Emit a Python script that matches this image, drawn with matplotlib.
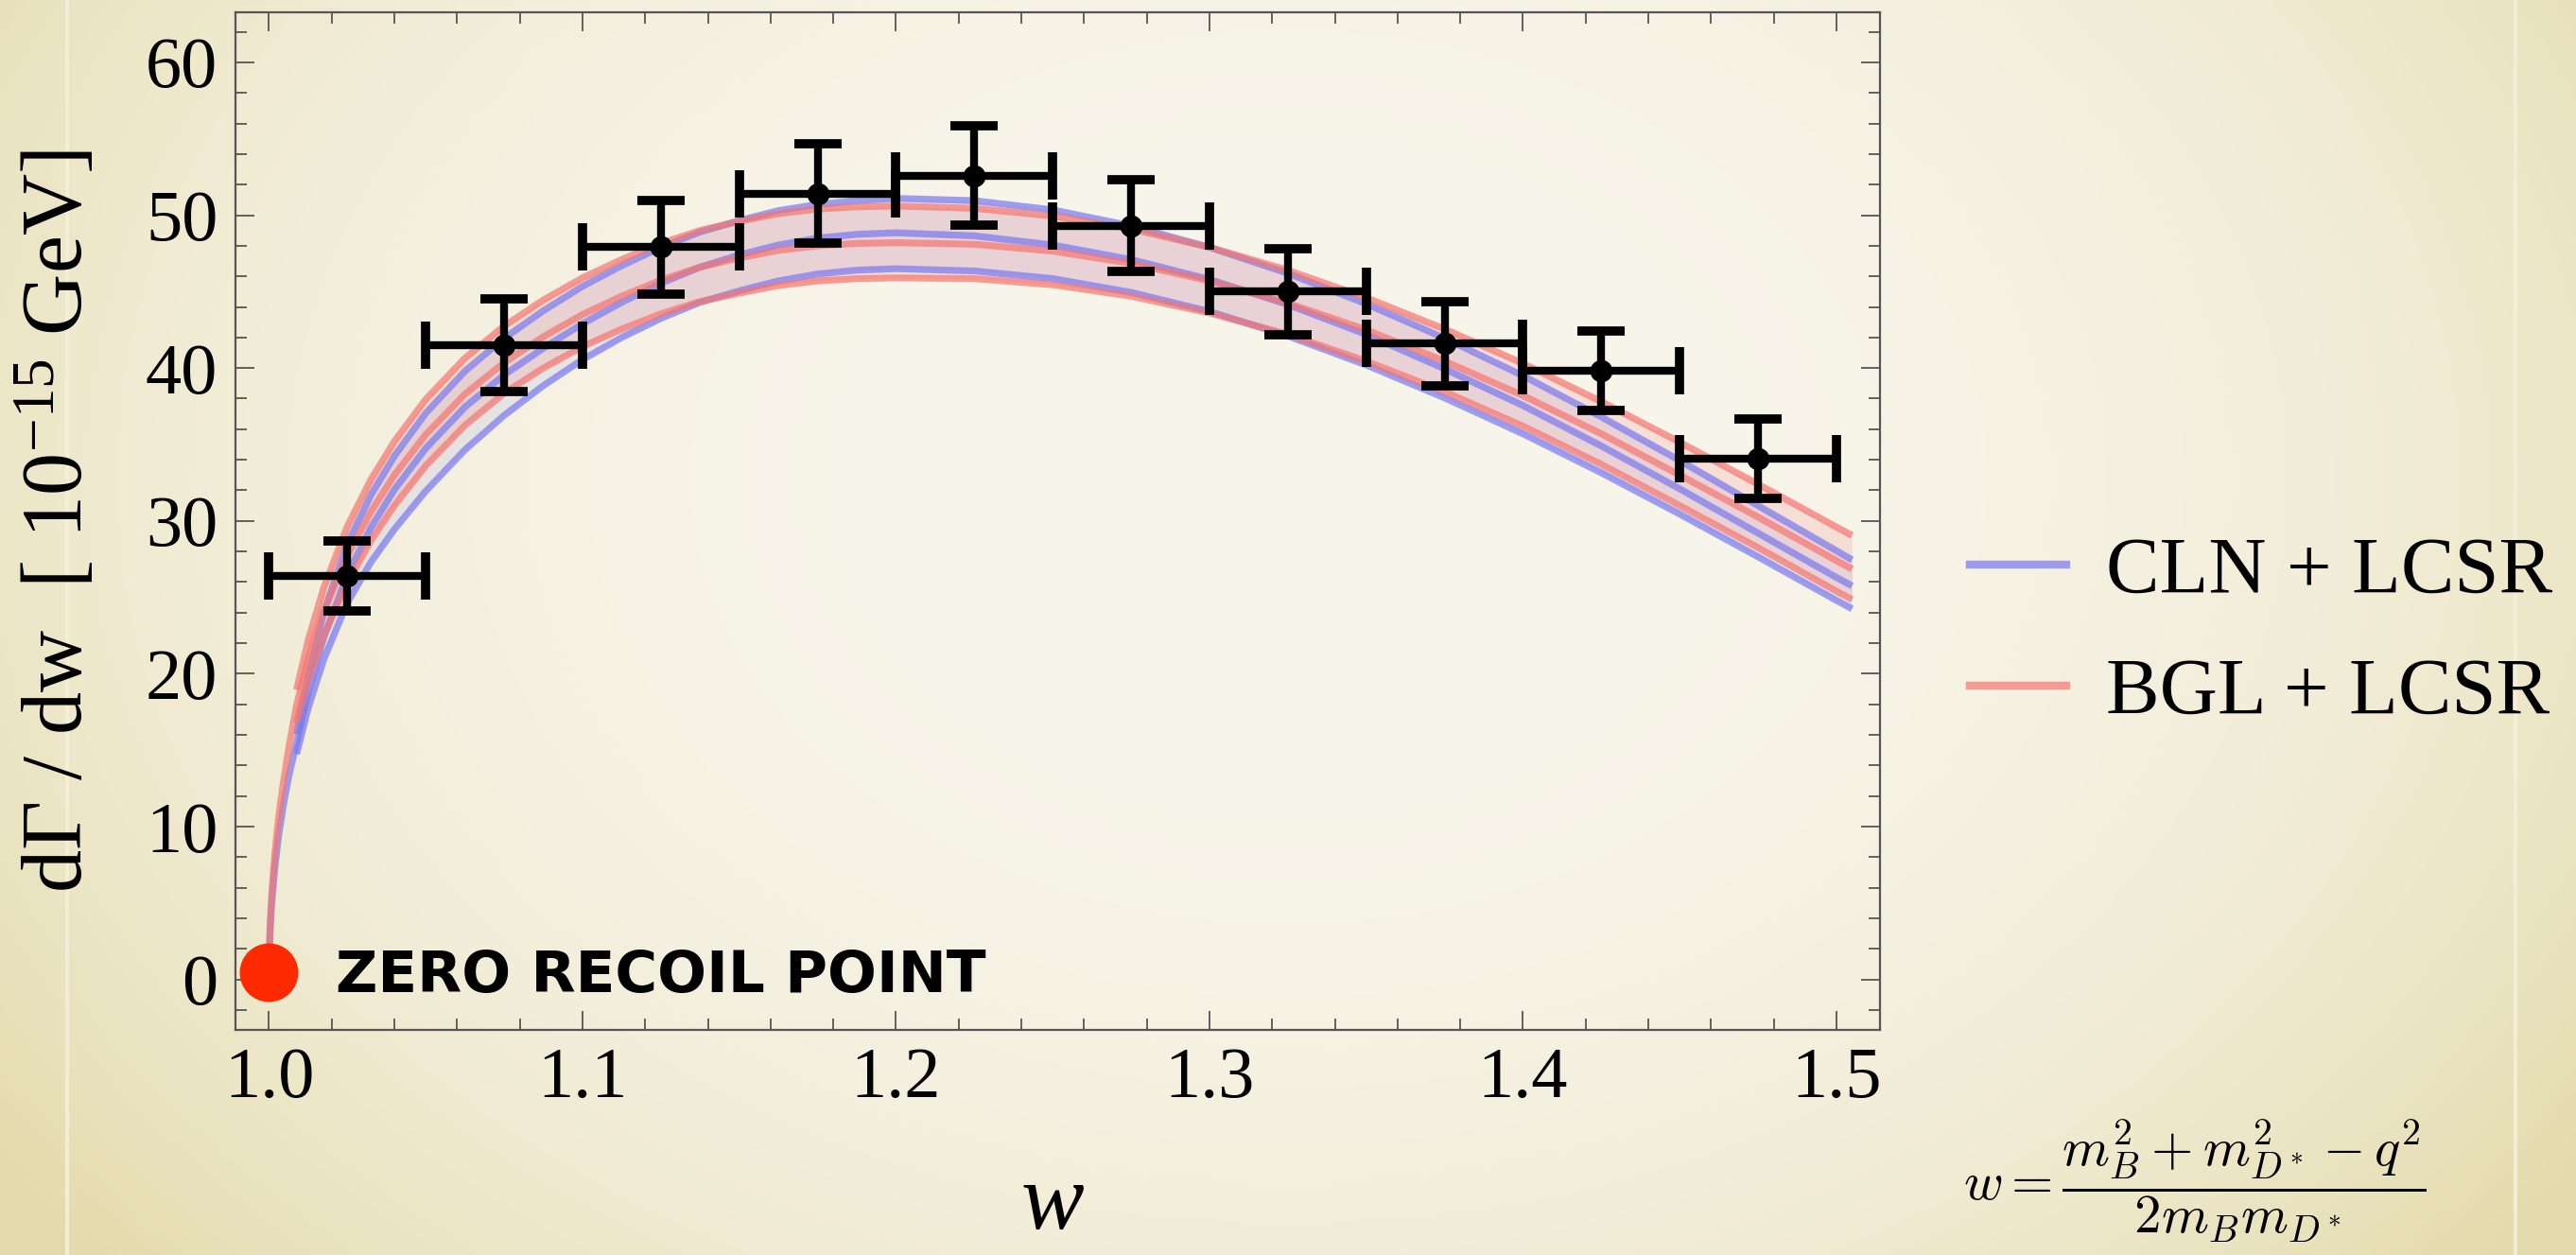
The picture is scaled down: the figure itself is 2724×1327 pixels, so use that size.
import numpy as np
import matplotlib.pyplot as plt
from matplotlib.ticker import MultipleLocator, FormatStrFormatter
from matplotlib.lines import Line2D

plt.rcParams['font.family'] = ['Liberation Serif', 'DejaVu Serif']
plt.rcParams['mathtext.fontset'] = 'custom'
plt.rcParams['mathtext.rm'] = 'Liberation Serif'
plt.rcParams['mathtext.it'] = 'Liberation Serif:italic'

# measured dGamma/dw in bins of w
w_bins = [1.025, 1.075, 1.125, 1.175, 1.225, 1.275, 1.325, 1.375, 1.425, 1.475]
w_halfwidth = [0.025] * 10
rate = [26.4, 41.5, 47.9, 51.4, 52.6, 49.3, 45.0, 41.6, 39.8, 34.1]
rate_err = [2.3, 3.05, 3.05, 3.25, 3.25, 3.0, 2.8, 2.75, 2.6, 2.6]

# theory bands (upper / central / lower edges)
w_grid = [1.0088, 1.0125, 1.0175, 1.025, 1.0325, 1.04, 1.05, 1.0625, 1.075,
          1.0875, 1.1, 1.1125, 1.125, 1.1375, 1.15, 1.1625, 1.175, 1.1875,
          1.2, 1.225, 1.25, 1.275, 1.3, 1.325, 1.35, 1.375, 1.4, 1.425,
          1.45, 1.475, 1.5, 1.505]
cln_upper = [16.05, 20.0, 24.05, 28.5, 31.7, 34.25, 37.05, 39.8, 41.95,
             43.75, 45.35, 46.7, 47.9, 48.9, 49.65, 50.3, 50.7, 50.95,
             51.1, 50.95, 50.35, 49.3, 47.9, 46.2, 44.2, 41.95, 39.5, 36.8,
             33.95, 31.0, 28.05, 27.45]
cln_central = [15.45, 18.85, 22.4, 26.5, 29.55, 32.05, 34.75, 37.45, 39.55,
               41.3, 42.9, 44.3, 45.55, 46.6, 47.4, 48.05, 48.5, 48.75,
               48.85, 48.65, 48.05, 47.1, 45.8, 44.15, 42.2, 39.95, 37.55,
               34.9, 32.1, 29.2, 26.3, 25.75]
cln_lower = [14.75, 17.75, 20.95, 24.65, 27.3, 29.45, 31.95, 34.65, 36.9,
             38.85, 40.55, 42.0, 43.25, 44.3, 45.05, 45.7, 46.15, 46.4,
             46.5, 46.35, 45.85, 44.95, 43.7, 42.1, 40.2, 38.05, 35.7, 33.15,
             30.45, 27.65, 24.8, 24.25]
bgl_upper = [18.95, 22.2, 25.65, 29.65, 32.7, 35.2, 37.95, 40.65, 42.75,
             44.45, 45.9, 47.1, 48.15, 49.0, 49.6, 50.1, 50.4, 50.55,
             50.6, 50.45, 49.95, 49.1, 47.9, 46.4, 44.6, 42.55, 40.3, 37.8,
             35.15, 32.4, 29.6, 29.05]
bgl_central = [17.95, 20.95, 24.1, 27.75, 30.6, 33.0, 35.65, 38.3, 40.35,
               42.05, 43.5, 44.7, 45.75, 46.6, 47.2, 47.7, 48.0, 48.15,
               48.2, 48.1, 47.65, 46.85, 45.7, 44.25, 42.5, 40.45, 38.2, 35.7,
               33.0, 30.25, 27.4, 26.85]
bgl_lower = [16.85, 19.6, 22.5, 25.95, 28.7, 31.0, 33.6, 36.25, 38.35,
             40.0, 41.4, 42.55, 43.55, 44.35, 44.9, 45.4, 45.7, 45.85,
             45.9, 45.85, 45.45, 44.7, 43.6, 42.2, 40.45, 38.45, 36.2, 33.7,
             31.0, 28.25, 25.4, 24.85]

# central curves continued down to the zero recoil point
w_zero = [1.0, 1.0003, 1.0008, 1.0018, 1.003, 1.0045, 1.0065]
cln_central_zero = [0.5, 2.9, 4.8, 7.2, 9.3, 11.3, 13.5]
bgl_central_zero = [0.5, 3.3, 5.4, 8.1, 10.5, 12.8, 15.4]

zero_recoil = (1.0, 0.47)

blue = '#7878f0'
red = '#f5756f'
line_alpha = 0.7

fig = plt.figure(figsize=(27.24, 13.27), dpi=100)

# parchment background with a soft vignette
H, W = 340, 700
xx, yy = np.meshgrid(np.linspace(0, 1, W), np.linspace(0, 1, H))
t = np.clip(((xx - 0.5) / 0.62) ** 2 + ((yy - 0.38) / 0.95) ** 2, 0, 1) ** 1.4
center = np.array([248, 245, 235]) / 255
edge = np.array([228, 219, 172]) / 255
bg = center[None, None, :] * (1 - t[..., None]) + edge[None, None, :] * t[..., None]
side = (xx < 70 / 2724) | (xx > 2662 / 2724)
bg[side] = bg[side] * 0.975 + np.array([0.86, 0.82, 0.6]) * 0.025
bgax = fig.add_axes([0, 0, 1, 1], zorder=-10)
bgax.imshow(bg, aspect='auto', interpolation='bilinear', extent=[0, 1, 0, 1])
for xs in (71 / 2724, 2660 / 2724):
    bgax.axvline(xs, color='#f4efd9', lw=3, alpha=0.9)
bgax.set_xlim(0, 1)
bgax.set_ylim(0, 1)
bgax.axis('off')

ax = fig.add_axes([0.09141, 0.17935, 0.63840, 0.81116])
ax.patch.set_alpha(0)

ax.fill_between(w_grid, cln_lower, cln_upper, color='#8080f0', alpha=0.12, lw=0)
ax.fill_between(w_grid, bgl_lower, bgl_upper, color='#f08080', alpha=0.18, lw=0)

lw = 5.2
style = dict(alpha=line_alpha, lw=lw, solid_capstyle='butt', solid_joinstyle='round')
ax.plot(w_grid, cln_upper, color=blue, **style)
ax.plot(w_grid, cln_lower, color=blue, **style)
ax.plot(w_zero + w_grid, cln_central_zero + cln_central, color=blue, **style)
ax.plot(w_grid, bgl_upper, color=red, **style)
ax.plot(w_grid, bgl_lower, color=red, **style)
ax.plot(w_zero + w_grid, bgl_central_zero + bgl_central, color=red, **style)

ax.errorbar(w_bins, rate, xerr=w_halfwidth, yerr=rate_err, fmt='o', color='black',
            ms=16, elinewidth=6, capsize=18, capthick=7, zorder=5)

ax.scatter([zero_recoil[0]], [zero_recoil[1]], s=1990, color='#ff2a00', zorder=6,
           clip_on=False, linewidths=0)
ax.text(1.0213, 0.22, 'ZERO RECOIL POINT', family='DejaVu Sans', weight='bold',
        fontsize=44, ha='left', va='center')

ax.set_xlim(0.9893, 1.5139)
ax.set_ylim(-3.3, 63.3)
ax.xaxis.set_major_locator(MultipleLocator(0.1))
ax.xaxis.set_minor_locator(MultipleLocator(0.02))
ax.xaxis.set_major_formatter(FormatStrFormatter('%.1f'))
ax.yaxis.set_major_locator(MultipleLocator(10))
ax.yaxis.set_minor_locator(MultipleLocator(2))
ax.tick_params(which='both', direction='in', top=True, right=True,
               color='#555555', labelcolor='black')
ax.tick_params(which='major', length=14.5, width=1.3, labelsize=55)
ax.tick_params(axis='x', which='major', pad=13)
ax.tick_params(axis='y', which='major', pad=13.5)
ax.tick_params(which='minor', length=8.5, width=1.3)
for s in ax.spines.values():
    s.set_color('#555555')
    s.set_linewidth(1.6)

ax.set_ylabel('dΓ / dw  [ 10$^{−15}$ GeV]', fontsize=65)
ax.yaxis.set_label_coords(-0.082, 0.5)
ax.set_xlabel('w', fontsize=72, style='italic', va='baseline')
ax.xaxis.set_label_coords(0.497, -0.195)

handles = [Line2D([], [], color=blue, alpha=line_alpha, lw=6.1),
           Line2D([], [], color=red, alpha=line_alpha, lw=6.1)]
fig.legend(handles, ['CLN + LCSR', 'BGL + LCSR'], loc='center left',
           bbox_to_anchor=(0.7647, 0.495), frameon=False, fontsize=61,
           handlelength=1.2, handletextpad=0.5, labelspacing=0.6,
           borderpad=0, borderaxespad=0)

# definition of the recoil variable
fig.text(2076 / 2724, 0.008,
         r'$w = \dfrac{m_B^2 + m_{D^*}^2 - q^2}{2 m_B m_{D^*}}$',
         math_fontfamily='cm', fontsize=41, ha='left', va='bottom')

fig.savefig('out.png', dpi=100)
